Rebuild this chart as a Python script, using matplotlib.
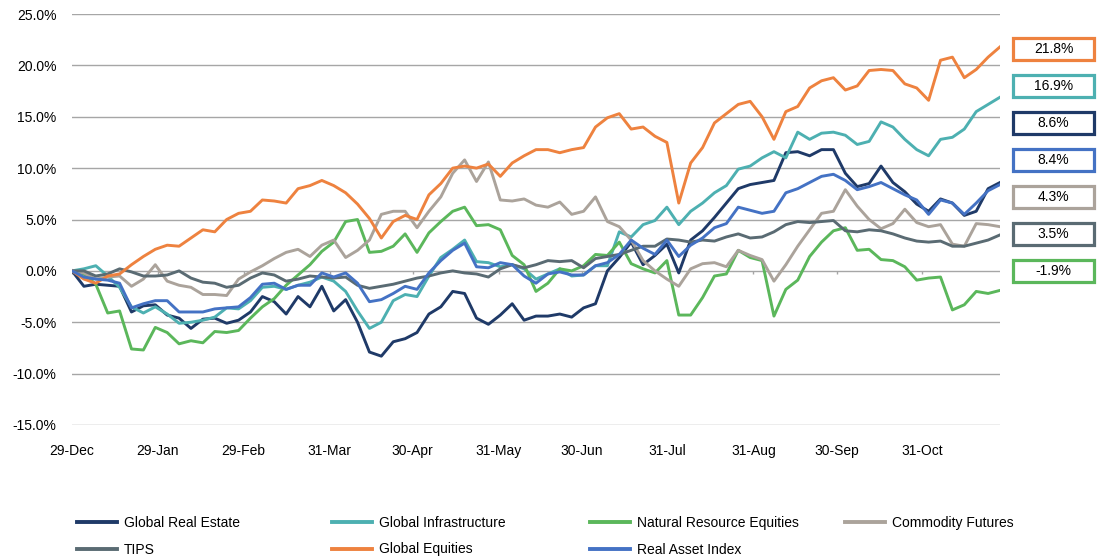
import matplotlib
matplotlib.use("Agg")
import matplotlib.pyplot as plt
import matplotlib.dates as mdates
from matplotlib.patches import Rectangle
from matplotlib.lines import Line2D
import numpy as np
import pandas as pd

plt.rcParams['font.family'] = ['Liberation Sans', 'DejaVu Sans']

# ---- data (cumulative return, %) ----
dates = pd.date_range("2015-12-29", "2016-11-28", periods=79)

global_real_estate = [0, -1.5, -1.3, -1.4, -1.5, -4.0, -3.4, -3.3, -4.3, -4.6, -5.6, -4.7, -4.6, -5.1, -4.8, -4.0,
                      -2.5, -3.0, -4.2, -2.5, -3.5, -1.5, -3.9, -2.8, -5.0, -7.9, -8.3, -6.9, -6.6, -6.0, -4.2, -3.5,
                      -2.0, -2.2, -4.6, -5.2, -4.3, -3.2, -4.8, -4.4, -4.4, -4.2, -4.5, -3.6, -3.2, 0.0, 1.3, 2.8,
                      0.6, 1.5, 2.6, -0.2, 3.0, 3.9, 5.2, 6.6, 8.0, 8.4, 8.6, 8.8, 11.5, 11.6, 11.2, 11.8, 11.8, 9.5,
                      8.2, 8.5, 10.2, 8.6, 7.7, 6.5, 5.8, 7.0, 6.6, 5.4, 5.8, 8.0, 8.6]
global_infrastructure = [0, 0.2, 0.5, -0.5, -1.6, -3.5, -4.1, -3.5, -4.2, -5.1, -5.0, -4.8, -4.5, -3.6, -3.7, -2.9,
                         -1.6, -1.5, -1.8, -1.4, -1.1, -0.6, -1.0, -2.0, -3.9, -5.6, -5.0, -2.9, -2.3, -2.5, -0.5, 1.3,
                         2.1, 3.0, 0.9, 0.8, 0.4, 0.6, 0.2, -0.8, -0.3, 0.2, -0.5, -0.4, 0.5, 0.5, 3.8, 3.3,
                         4.5, 4.9, 6.2, 4.5, 5.8, 6.6, 7.6, 8.3, 9.9, 10.2, 11.0, 11.6, 11.0, 13.5, 12.8, 13.4, 13.5, 13.2,
                         12.3, 12.6, 14.5, 14.0, 12.8, 11.8, 11.2, 12.8, 13.0, 13.8, 15.5, 16.2, 16.9]
natural_resource_equities = [0, -0.3, -1.3, -4.1, -3.9, -7.6, -7.7, -5.5, -6.0, -7.1, -6.8, -7.0, -5.9, -6.0, -5.8, -4.6,
                             -3.5, -2.7, -1.4, -0.4, 0.6, 1.9, 2.8, 4.8, 5.0, 1.8, 1.9, 2.4, 3.6, 1.8, 3.7, 4.8,
                             5.8, 6.2, 4.4, 4.5, 4.0, 1.5, 0.6, -2.0, -1.2, 0.2, 0.0, 0.5, 1.6, 1.5, 2.8, 0.7,
                             0.2, -0.2, 1.0, -4.3, -4.3, -2.6, -0.5, -0.3, 2.0, 1.3, 1.0, -4.4, -1.8, -0.9, 1.4, 2.8, 3.9, 4.2,
                             2.0, 2.1, 1.1, 1.0, 0.4, -0.9, -0.7, -0.6, -3.8, -3.3, -2.0, -2.2, -1.9]
commodity_futures = [0, -0.2, -0.8, -0.6, -0.5, -1.5, -0.8, 0.6, -1.0, -1.4, -1.6, -2.3, -2.3, -2.4, -0.8, -0.1,
                     0.5, 1.2, 1.8, 2.1, 1.4, 2.5, 3.0, 1.3, 2.0, 3.0, 5.5, 5.8, 5.8, 4.2, 5.8, 7.2,
                     9.5, 10.8, 8.7, 10.6, 6.9, 6.8, 7.0, 6.4, 6.2, 6.7, 5.5, 5.8, 7.2, 4.8, 4.3, 3.0,
                     1.0, 0.0, -0.8, -1.5, 0.2, 0.7, 0.8, 0.4, 2.0, 1.5, 1.1, -1.0, 0.6, 2.4, 4.0, 5.6, 5.8, 7.9,
                     6.3, 5.0, 4.1, 4.6, 6.0, 4.7, 4.3, 4.5, 2.6, 2.4, 4.6, 4.5, 4.3]
tips = [0, 0.0, -0.5, -0.3, 0.2, -0.1, -0.5, -0.5, -0.4, 0.0, -0.7, -1.1, -1.2, -1.6, -1.4, -0.7,
        -0.2, -0.4, -1.0, -0.8, -0.5, -0.6, -0.7, -0.6, -1.4, -1.7, -1.5, -1.3, -1.0, -0.7, -0.5, -0.2,
        0.0, -0.2, -0.3, -0.6, 0.2, 0.6, 0.3, 0.6, 1.0, 0.9, 1.0, 0.3, 1.2, 1.4, 1.6, 2.0,
        2.4, 2.4, 3.1, 3.0, 2.8, 3.0, 2.9, 3.3, 3.6, 3.2, 3.3, 3.8, 4.5, 4.8, 4.7, 4.8, 4.9, 3.9,
        3.8, 4.0, 3.9, 3.6, 3.2, 2.9, 2.8, 2.9, 2.4, 2.4, 2.7, 3.0, 3.5]
global_equities = [0, -0.8, -1.2, -0.5, -0.3, 0.6, 1.4, 2.1, 2.5, 2.4, 3.2, 4.0, 3.8, 5.0, 5.6, 5.8,
                   6.9, 6.8, 6.6, 8.0, 8.3, 8.8, 8.3, 7.6, 6.5, 5.1, 3.2, 4.8, 5.4, 5.0, 7.4, 8.5,
                   10.0, 10.2, 10.0, 10.4, 9.2, 10.5, 11.2, 11.8, 11.8, 11.5, 11.8, 12.0, 14.0, 14.9, 15.3, 13.8,
                   14.0, 13.1, 12.5, 6.6, 10.5, 12.0, 14.4, 15.3, 16.2, 16.5, 15.0, 12.8, 15.5, 16.0, 17.8, 18.5, 18.8, 17.6,
                   18.0, 19.5, 19.6, 19.5, 18.2, 17.8, 16.6, 20.5, 20.8, 18.8, 19.6, 20.8, 21.8]
real_asset_index = [0, -0.6, -0.8, -0.9, -1.2, -3.6, -3.2, -2.9, -2.9, -4.0, -4.0, -4.0, -3.7, -3.6, -3.5, -2.6,
                    -1.3, -1.2, -1.8, -1.4, -1.4, -0.2, -0.6, -0.2, -1.2, -3.0, -2.8, -2.2, -1.5, -1.8, -0.2, 1.0,
                    2.0, 2.7, 0.4, 0.3, 0.8, 0.6, -0.5, -1.2, -0.3, -0.1, -0.4, -0.4, 0.5, 0.8, 1.6, 3.0,
                    2.2, 1.6, 3.0, 1.4, 2.5, 3.2, 4.2, 4.6, 6.2, 5.9, 5.6, 5.8, 7.6, 8.0, 8.6, 9.2, 9.4, 8.8,
                    7.9, 8.2, 8.6, 8.0, 7.4, 6.9, 5.5, 6.9, 6.6, 5.5, 6.6, 7.8, 8.4]

series_names = ["Global Real Estate", "Global Infrastructure", "Natural Resource Equities",
                "Commodity Futures", "TIPS", "Global Equities", "Real Asset Index"]
series_values = [global_real_estate, global_infrastructure, natural_resource_equities,
                 commodity_futures, tips, global_equities, real_asset_index]
series_colors = ["#1F3A68", "#4DB0B1", "#5BB75B", "#ABA39B", "#5A6B73", "#EE823F", "#4472C4"]

tick_dates = pd.to_datetime(["2015-12-29", "2016-01-29", "2016-02-29", "2016-03-31", "2016-04-30",
                             "2016-05-31", "2016-06-30", "2016-07-31", "2016-08-31", "2016-09-30",
                             "2016-10-31"])
y_ticks = [-15, -10, -5, 0, 5, 10, 15, 20, 25]

# ---- figure ----
W, H = 1097, 559
fig = plt.figure(figsize=(W / 100, H / 100), dpi=100)
ax = fig.add_axes([72 / W, 1 - 425 / H, (1000 - 72) / W, (425 - 14) / H])

lines = {}
for name, vals, col in zip(series_names, series_values, series_colors):
    ln, = ax.plot(dates, vals, color=col, lw=2.1, solid_joinstyle='round', zorder=3)
    lines[name] = ln

ax.set_xlim(dates[0], dates[-1])
ax.set_ylim(-15, 25)
ax.set_yticks(y_ticks)
ax.set_yticklabels([f"{v:.1f}%" for v in y_ticks])
ax.yaxis.grid(True, color="#A6A6A6", lw=1.0)
ax.set_axisbelow(True)
for s in ax.spines.values():
    s.set_visible(False)
ax.tick_params(axis='y', length=0, pad=11, labelsize=10, labelcolor="#000000")
ax.set_xticks(tick_dates)
ax.xaxis.set_major_formatter(mdates.DateFormatter("%d-%b"))
ax.tick_params(axis='x', length=0, pad=14, labelsize=10, labelcolor="#000000")
ax.set_xlim(dates[0], dates[-1])
# small tick marks on the zero line
ax.vlines(tick_dates, -0.35, 0, color="#A6A6A6", lw=1.0, zorder=2)

# ---- end-value boxes on the right ----
last = [(v[-1], c) for v, c in zip(series_values, series_colors)]
last.sort(key=lambda t: -t[0])
bx0, bw, bh = 1013, 81, 22
for i, (val, col) in enumerate(last):
    cy = 49 + i * 37
    rect = Rectangle((bx0 / W, 1 - (cy + bh / 2) / H), bw / W, bh / H, transform=fig.transFigure,
                     facecolor="white", edgecolor=col, lw=2.3)
    fig.add_artist(rect)
    fig.text((bx0 + bw / 2) / W, 1 - cy / H, f"{val:.1f}%", ha="center", va="center", fontsize=10)

# ---- legend (4 columns, 2 rows) ----
col_x = [77, 332, 590, 845]
col_items = [["Global Real Estate", "TIPS"], ["Global Infrastructure", "Global Equities"],
             ["Natural Resource Equities", "Real Asset Index"], ["Commodity Futures"]]
for x, items in zip(col_x, col_items):
    handles = [Line2D([], [], color=lines[n].get_color(), lw=2.8) for n in items]
    fig.legend(handles, items, loc="upper left", bbox_to_anchor=(x / W, 1 - 516 / H),
               frameon=False, fontsize=10, handlelength=2.9, handletextpad=0.5,
               labelspacing=0.9, borderaxespad=0, borderpad=0)

fig.savefig("out.png", dpi=100)
